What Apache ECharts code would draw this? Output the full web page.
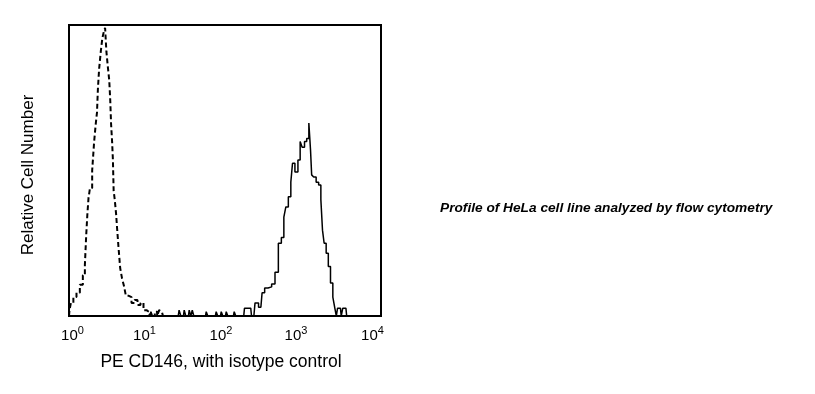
<!DOCTYPE html>
<html><head><meta charset="utf-8">
<script src="https://cdn.jsdelivr.net/npm/echarts@6/dist/echarts.min.js"></script>
<style>html,body{margin:0;padding:0;background:#fff}#c{width:815px;height:394px}</style>
</head><body><div id="c"></div>
<script>
// x values are log10 of fluorescence (decades), y values are relative cell counts
var decadeTicks = [0, 1, 2, 3, 4];
var isotypeData = [
  [0.00,0],[0.013,2],[0.035,4.5],[0.077,6.5],[0.115,8],[0.163,10.7],[0.192,14],[0.215,17.5],
  [0.227,28],[0.244,35],[0.256,40.5],[0.282,44],[0.312,50],[0.333,60],[0.353,66],[0.365,70],
  [0.376,78],[0.397,85],[0.419,91],[0.436,95.5],[0.455,97.6],[0.471,99],[0.487,91],[0.506,86],
  [0.526,81],[0.532,74],[0.547,66],[0.558,60],[0.568,53.6],[0.577,43],[0.596,40],[0.612,35],
  [0.622,30],[0.645,24],[0.667,16.5],[0.692,13],[0.718,10.3],[0.740,7],[0.782,6.5],[0.821,4.5],
  [0.859,5.5],[0.897,3.8],[0.936,4.5],[0.974,2],[1.013,1.4],[1.04,0],[1.06,1],[1.08,0],
  [1.12,1.5],[1.14,0],[1.17,2],[1.19,1.5],[1.22,0],[1.25,0]
];
var cd146Data = [
  [0.90,0],[1.04,0],[1.06,1.5],[1.08,0],[1.40,0],[1.423,2],[1.445,0],[1.467,0],[1.487,2],[1.507,0],
  [1.531,0],[1.551,2],[1.571,0],[1.59,2],[1.61,0],[1.75,0],[1.769,1.5],[1.79,0],[1.877,0],[1.897,1.5],
  [1.917,0],[1.942,0],[1.962,1.5],[1.982,0],[2.006,0],[2.026,1.5],[2.046,0],[2.108,0],[2.128,1.5],[2.148,0],
  [2.24,0],[2.26,2.7],[2.33,2.7],[2.35,0],[2.37,0],[2.40,4.5],[2.46,3],[2.491,8],[2.526,9.6],[2.577,10],
  [2.619,11],[2.663,15],[2.705,25],[2.740,27],[2.769,34],[2.791,37.5],[2.833,41],[2.855,46],[2.876,52.5],
  [2.917,49.5],[2.953,53.6],[2.974,60],[3.004,58],[3.035,60],[3.060,61],[3.090,66.3],[3.103,57],[3.119,48.5],
  [3.154,47.8],[3.183,46],[3.218,45],[3.240,40],[3.260,29.5],[3.282,25],[3.312,21.6],[3.337,17],[3.368,11.3],
  [3.397,6.5],[3.419,2.7],[3.436,0],[3.45,2.7],[3.48,2.7],[3.50,0],[3.52,2.7],[3.55,2.7],[3.57,0]
];
var xTitle = 'PE CD146, with isotype control';
var yTitle = 'Relative Cell Number';
var note = 'Profile of HeLa cell line analyzed by flow cytometry';

var chart = echarts.init(document.getElementById('c'), null, {renderer: 'canvas'});
var font = 'Arial, "Liberation Sans", Helvetica, sans-serif';
// horizontal nudges of each decade label (label layout style, not data)
var labelShift = {0: '{l|}', 1: '', 2: '', 3: '', 4: ''};
var labelTail = {0: '', 1: '{r5|}', 2: '{r8|}', 3: '{r14|}', 4: '{r17|}'};
chart.setOption({
  backgroundColor: '#fff',
  animation: false,
  grid: {left: 69, top: 25, width: 312, height: 291, show: true, borderColor: '#000', borderWidth: 2, backgroundColor: 'transparent'},
  xAxis: {
    type: 'value', min: 0, max: 4, interval: 1,
    axisLine: {show: false}, axisTick: {show: false}, splitLine: {show: false},
    axisLabel: {
      margin: 7,
      formatter: function (v) {
        if (decadeTicks.indexOf(v) < 0) return '';
        return labelShift[v] + '{a|10}{b|' + v + '}' + labelTail[v];
      },
      rich: {
        a: {fontFamily: font, fontSize: 15, color: '#000', verticalAlign: 'bottom', lineHeight: 20},
        b: {fontFamily: font, fontSize: 11, color: '#000', verticalAlign: 'top', lineHeight: 20, padding: [2, 0, 0, 0]},
        l: {width: 7, lineHeight: 20},
        r5: {width: 5, lineHeight: 20},
        r8: {width: 8, lineHeight: 20},
        r14: {width: 14, lineHeight: 20},
        r17: {width: 17, lineHeight: 20}
      }
    }
  },
  yAxis: {type: 'value', min: 0, max: 100, show: false, splitLine: {show: false}},
  series: [
    {type: 'line', data: isotypeData, step: 'middle', showSymbol: false, z: 3,
     lineStyle: {color: '#000', width: 2, type: [5, 3]}},
    {type: 'line', data: cd146Data, step: 'middle', showSymbol: false, z: 4,
     lineStyle: {color: '#000', width: 1.5}}
  ],
  graphic: [
    {type: 'text', x: 221, y: 362, style: {text: xTitle, font: '17.5px ' + font, fill: '#000', textAlign: 'center', textVerticalAlign: 'middle'}},
    {type: 'text', x: 28, y: 175, rotation: Math.PI / 2, style: {text: yTitle, font: '17px ' + font, fill: '#000', textAlign: 'center', textVerticalAlign: 'middle'}},
    {type: 'text', x: 440, y: 208, style: {text: note, font: 'italic bold 13.7px ' + font, fill: '#000', textAlign: 'left', textVerticalAlign: 'middle'}}
  ]
});
</script></body></html>
